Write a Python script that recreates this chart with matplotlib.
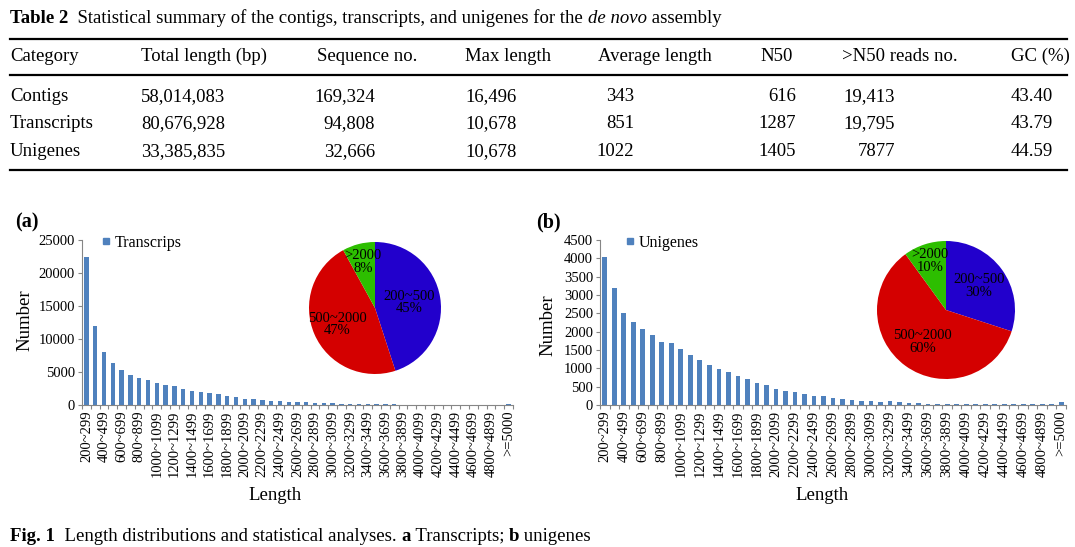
import matplotlib
matplotlib.use("Agg")
import matplotlib.pyplot as plt
import numpy as np
from matplotlib.lines import Line2D

W, H = 1075, 547
plt.rcParams["font.family"] = ["Liberation Serif", "DejaVu Serif"]

# ---------------------------------------------------------------- table data
table_header = ["Category", "Total length (bp)", "Sequence no.", "Max length",
                "Average length", "N50", ">N50 reads no.", "GC (%)"]
categories = ["Contigs", "Transcripts", "Unigenes"]
total_length = ["58,014,083", "80,676,928", "33,385,835"]
sequence_no = ["169,324", "94,808", "32,666"]
max_length = ["16,496", "10,678", "10,678"]
average_length = ["343", "851", "1022"]
n50 = ["616", "1287", "1405"]
n50_reads = ["19,413", "19,795", "7877"]
gc_percent = ["43.40", "43.79", "44.59"]

# ---------------------------------------------------------------- chart data
bin_labels = [f"{start}~{start + 99}" for start in range(200, 5000, 100)] + [">=5000"]
transcript_counts = [22500, 11950, 8050, 6350, 5300, 4550, 4150, 3800, 3400, 3000,
                     2900, 2500, 2150, 2000, 1850, 1600, 1350, 1200, 950, 850,
                     820, 680, 680, 520, 450, 380, 300, 270, 250, 180,
                     140, 120, 100, 90, 85, 80, 75, 70, 70, 65,
                     65, 60, 60, 55, 55, 50, 50, 50, 90]
unigene_counts = [4030, 3200, 2500, 2270, 2070, 1910, 1720, 1700, 1520, 1360,
                  1240, 1100, 980, 890, 780, 700, 600, 550, 440, 370,
                  350, 305, 255, 235, 190, 170, 145, 100, 120, 75,
                  100, 75, 45, 45, 30, 30, 25, 25, 25, 20,
                  20, 20, 20, 20, 15, 15, 15, 15, 75]
pie_labels = ["200~500", "500~2000", ">2000"]
transcript_share = [45, 47, 8]
unigene_share = [30, 60, 10]

BAR_COLOUR = "#4F81BD"
PIE_COLOURS = ["#2200CC", "#D40000", "#2DBE00"]
SPINE_COLOUR = "#868686"


def fx(x):
    return x / W


def fy(y):
    return 1 - y / H


fig = plt.figure(figsize=(W / 100, H / 100), dpi=100)
renderer = fig.canvas.get_renderer()


def text_width(text, **kw):
    # pad with x's so leading/trailing spaces are counted
    a = fig.text(0, 0, "x" + text + "x", **kw)
    b = fig.text(0, 0, "xx", **kw)
    width = a.get_window_extent(renderer).width - b.get_window_extent(renderer).width
    a.remove()
    b.remove()
    return width


def draw_runs(x, y, runs, size):
    for text, weight, style in runs:
        kw = dict(fontsize=size, fontweight=weight, fontstyle=style)
        fig.text(fx(x), fy(y), text, ha="left", va="baseline", **kw)
        x += text_width(text, **kw)


def rule(y, lw=1.6):
    fig.add_artist(Line2D([fx(10), fx(1067)], [fy(y), fy(y)], color="black", lw=lw))


# ---------------------------------------------------------------- table
TABLE_SIZE = 13.5
draw_runs(10, 23, [("Table 2", "bold", "normal"),
                   ("  Statistical summary of the contigs, transcripts, and unigenes for the ",
                    "normal", "normal"),
                   ("de novo", "normal", "italic"),
                   (" assembly", "normal", "normal")], TABLE_SIZE)
rule(39)
rule(75)
rule(170)

header_x = [10, 141, 317, 465, 598, 760, 842, 1011]
columns = [categories, total_length, sequence_no, max_length,
           average_length, n50, n50_reads, gc_percent]
value_pos = [(10, "left"), (141, "left"), (375, "right"), (465, "left"),
             (634, "right"), (796, "right"), (895, "right"), (1011, "left")]
row_y = [101, 128, 156]

for name, x in zip(table_header, header_x):
    fig.text(fx(x), fy(61), name, fontsize=TABLE_SIZE, ha="left", va="baseline")
for values, (x, ha) in zip(columns, value_pos):
    for value, y in zip(values, row_y):
        fig.text(fx(x), fy(y), value, fontsize=TABLE_SIZE, ha=ha, va="baseline")


# ---------------------------------------------------------------- charts
def bar_panel(left, right, counts, ymax, ystep, legend_name, legend_x):
    top, bottom = 240, 405
    ax = fig.add_axes([fx(left), fy(bottom), fx(right - left), (bottom - top) / H])
    positions = np.arange(len(counts))
    ax.bar(positions, counts, width=0.5, color=BAR_COLOUR, zorder=2)
    ax.set_xlim(-0.5, len(counts) - 0.5)
    ax.set_ylim(0, ymax)
    ax.set_yticks(np.arange(0, ymax + 1, ystep))
    ax.set_xticks(positions[::2])
    ax.set_xticklabels(bin_labels[::2], rotation=90, fontsize=10.5)
    ax.set_xticks(np.arange(-0.5, len(counts)), minor=True)
    ax.tick_params(axis="x", which="major", length=0, pad=4)
    ax.tick_params(axis="x", which="minor", length=3, color=SPINE_COLOUR, width=0.8)
    ax.tick_params(axis="y", length=3, color=SPINE_COLOUR, width=0.8, labelsize=10.5, pad=2)
    for side in ("top", "right"):
        ax.spines[side].set_visible(False)
    for side in ("left", "bottom"):
        ax.spines[side].set_color(SPINE_COLOUR)
        ax.spines[side].set_linewidth(0.8)
    handle = Line2D([0], [0], marker="s", color="none", markerfacecolor=BAR_COLOUR,
                    markeredgecolor=BAR_COLOUR, markersize=5, linestyle="none")
    ax.legend([handle], [legend_name], loc="center left", frameon=False,
              bbox_to_anchor=(fx(legend_x), fy(243)), bbox_transform=fig.transFigure,
              fontsize=11.5, handlelength=0.8, handletextpad=0.15,
              borderpad=0, borderaxespad=0)
    return ax


def pie_panel(cx, cy, r, shares, radii):
    ax = fig.add_axes([fx(cx - r), fy(cy + r), 2 * r / W, 2 * r / H])
    wedges, _ = ax.pie(shares, colors=PIE_COLOURS, startangle=90,
                       counterclock=False, radius=1)
    for wedge, label, share, dist in zip(wedges, pie_labels, shares, radii):
        mid = np.deg2rad((wedge.theta1 + wedge.theta2) / 2)
        ax.text(dist * np.cos(mid), dist * np.sin(mid), f"{label}\n{share}%",
                ha="center", va="center", fontsize=10.5, linespacing=0.95)
    ax.set_xlim(-1, 1)
    ax.set_ylim(-1, 1)
    ax.set_aspect("equal")
    ax.axis("off")


bar_panel(82, 513, transcript_counts, 25000, 5000, "Transcrips", 100)
bar_panel(600, 1066, unigene_counts, 4500, 500, "Unigenes", 624)
pie_panel(375, 308, 66, transcript_share, [0.53, 0.62, 0.72])
pie_panel(946, 310, 69, unigene_share, [0.59, 0.57, 0.75])

fig.text(fx(15), fy(222), "(a)", fontsize=14.5, fontweight="bold", ha="left", va="center")
fig.text(fx(536), fy(222), "(b)", fontsize=14.5, fontweight="bold", ha="left", va="center")
fig.text(fx(25), fy(320), "Number", fontsize=13.5, rotation=90, ha="center", va="center")
fig.text(fx(548), fy(325), "Number", fontsize=13.5, rotation=90, ha="center", va="center")
fig.text(fx(275), fy(495), "Length", fontsize=13.5, ha="center", va="center")
fig.text(fx(822), fy(495), "Length", fontsize=13.5, ha="center", va="center")

draw_runs(10, 541, [("Fig. 1", "bold", "normal"),
                    ("  Length distributions and statistical analyses. ", "normal", "normal"),
                    ("a", "bold", "normal"),
                    (" Transcripts; ", "normal", "normal"),
                    ("b", "bold", "normal"),
                    (" unigenes", "normal", "normal")], TABLE_SIZE)

fig.savefig("out.png", dpi=100)
